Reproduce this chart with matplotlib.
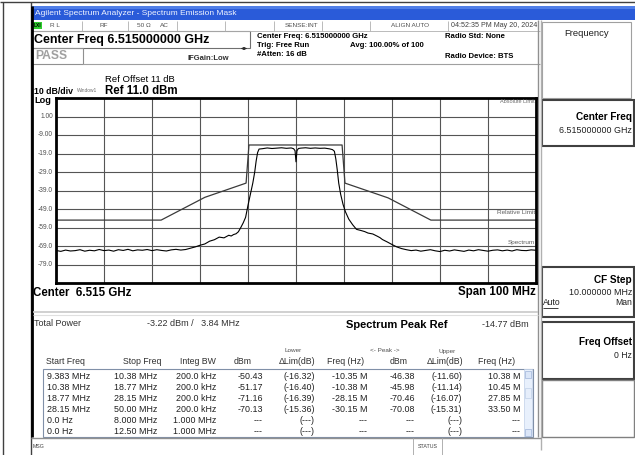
import matplotlib
matplotlib.use('Agg')
import matplotlib.pyplot as plt
import numpy as np
from matplotlib.patches import Rectangle
from matplotlib.transforms import blended_transform_factory

plt.rcParams['font.family'] = ['Liberation Sans', 'DejaVu Sans']

# analyzer settings
center_ghz = 6.515
span_mhz = 100
ref_level = 11.0
db_per_div = 10
ytick_vals = [1, -9, -19, -29, -39, -49, -59, -69, -79]
ytick_labels = ['1.00', '-9.00', '-19.0', '-29.0', '-39.0', '-49.0', '-59.0', '-69.0', '-79.0']

# spectrum trace: offset from centre (MHz), level (dBm)
spec_freq = [-50, -49, -48, -47, -46, -45, -44, -43, -42, -41, -40, -39, -38, -37,
             -36, -35, -34, -33, -32, -31, -30, -29, -28, -27, -26, -25, -24,
             -23, -22, -21, -20, -19, -18, -17, -16, -15, -14, -13.5, -13, -12.5,
             -12, -11.5, -11, -10.5, -10, -9.5, -9, -8.6, -8.3, -8.0, -7.7, -7, -6,
             -5, -4, -3, -2, -1, -0.5, -0.2, 0, 0.2, 0.5, 1, 2, 3, 4, 5, 6, 7, 7.6,
             8.0, 8.3, 8.6, 8.9, 9.3, 9.8, 10.3, 11, 11.8, 12.6, 13.5, 14.3, 15, 16,
             17, 17.5, 18, 19, 20, 21, 22, 23, 24, 25, 26, 27, 28, 29, 30, 31, 32,
             33, 34, 35, 36, 37, 38, 39, 40, 41, 42, 43, 44, 45, 46, 47, 48, 49, 50]
spec_dbm = [-71.4, -71.9, -71.2, -71.7, -71.5, -71.0, -71.8, -71.3, -71.6, -70.9, -71.5,
            -71.2, -71.8, -71.0, -71.4, -70.8, -71.6, -71.1, -71.3, -70.9, -71.5, -71.0,
            -71.4, -71.7, -71.1, -70.8, -71.2,
            -70.9, -70.2, -69.5, -68.6, -67.9, -66.4, -65.6, -64.2, -64.6, -63.2, -63.6,
            -62.8, -62.4, -61.3, -59.0, -56.5, -53.5, -47.0, -41.0, -35.0, -29.0, -23.0,
            -18.5, -16.6, -16.4, -16.0, -16.3, -16.1, -15.9, -16.2, -16.0, -16.4, -17.5,
            -23.5, -17.5, -16.3, -16.1, -15.9, -16.2, -16.0, -16.2, -16.1, -16.5, -16.9,
            -17.8, -22.0, -28.0, -35.0, -41.0, -46.5, -50.5, -54.5, -57.5, -60.0, -60.6,
            -61.2, -62.0, -62.5, -63.8, -64.5, -65.5, -66.8, -68.2, -69.5, -70.4, -71.0,
            -71.5, -71.2, -71.8, -71.4, -71.0, -71.6, -72.0, -71.3, -71.7, -71.1, -71.5,
            -71.9, -71.2, -71.6, -71.0, -71.4, -71.8, -71.3, -71.1, -71.6, -71.2, -71.7,
            -71.0, -71.4, -71.5, -71.1, -71.3]

# SEM limit mask
mask_freq = [-50, -28.1, -19.0, -10.4, -9.8, 9.6, 10.2, 19.2, 28.1, 50]
mask_dbm = [-55.0, -55.0, -42.7, -35.0, -14.4, -14.4, -35.0, -43.0, -55.0, -55.0]

# result table
start_freq = ['9.383 MHz', '10.38 MHz', '18.77 MHz', '28.15 MHz', '0.0 Hz', '0.0 Hz']
stop_freq = ['10.38 MHz', '18.77 MHz', '28.15 MHz', '50.00 MHz', '8.000 MHz', '12.50 MHz']
integ_bw = ['200.0 kHz', '200.0 kHz', '200.0 kHz', '200.0 kHz', '1.000 MHz', '1.000 MHz']
lower_dbm = ['-50.43', '-51.17', '-71.16', '-70.13', '---', '---']
lower_dlim = ['(-16.32)', '(-16.40)', '(-16.39)', '(-15.36)', '(---)', '(---)']
lower_freq = ['-10.35 M', '-10.38 M', '-28.15 M', '-30.15 M', '---', '---']
upper_dbm = ['-46.38', '-45.98', '-70.46', '-70.08', '---', '---']
upper_dlim = ['(-11.60)', '(-11.14)', '(-16.07)', '(-15.31)', '(---)', '(---)']
upper_freq = ['10.38 M', '10.45 M', '27.85 M', '33.50 M', '---', '---']

W, H = 635, 455
fig = plt.figure(figsize=(W / 100, H / 100), dpi=100)
fig.patch.set_facecolor('white')

#overlay axes in pixel coords for the instrument screen
ov = fig.add_axes([0, 0, 1, 1])
ov.set_xlim(0, W)
ov.set_ylim(H, 0)
ov.axis('off')


def put(x, y, s, size=6, weight='normal', ha='left', color='black', va='center', **kw):
    ov.text(x, y, s, fontsize=size, fontweight=weight, ha=ha, va=va, color=color, **kw)


def box(x0, y0, x1, y1, ec='#808080', lw=1.0, fc='none', z=1):
    ov.add_patch(Rectangle((x0, y0), x1 - x0, y1 - y0, ec=ec, fc=fc, lw=lw, zorder=z))


def hline(y, x0, x1, color='#808080', lw=1.0):
    ov.plot([x0, x1], [y, y], color=color, lw=lw, solid_capstyle='butt')


def vline(x, y0, y1, color='#808080', lw=1.0):
    ov.plot([x, x], [y0, y1], color=color, lw=lw, solid_capstyle='butt')


#outer table borders
hline(2, 0, W, color='#404040', lw=1.0)
vline(2.5, 2, H, color='#404040', lw=1.0)
vline(30.5, 2, H, color='#404040', lw=1.0)

#title bar
box(31, 6, W, 20, ec='none', fc='#2a5bd9', z=0)
box(31, 6, W, 9, ec='none', fc='#4f7ee8', z=0)
put(35, 13.5, 'Agilent Spectrum Analyzer - Spectrum Emission Mask', size=6.0, color='#f0f4ff')

#status row
box(33, 22, 42, 29, ec='none', fc='#2fcf2f')
put(37.5, 25.5, 'LXI', size=3.5, weight='bold', ha='center')
put(50, 25.5, 'R L', size=4.6, color='#505050')
put(100, 25.5, 'RF', size=4.6, color='#505050')
put(137, 25.5, '50 Ω', size=4.6, color='#505050')
put(160, 25.5, 'AC', size=4.6, color='#505050')
put(318, 25.5, 'SENSE:INT', size=4.6, color='#505050', ha='right')
put(391, 25.5, 'ALIGN AUTO', size=4.6, color='#505050')
put(451, 25.5, '04:52:35 PM May 20, 2024', size=5.1, color='#404040')
for sx in [82, 128, 177, 225, 274, 322, 370, 448]:
    vline(sx, 21, 31, color='#b0b0b0', lw=0.6)
hline(31, 31, 540, color='#b0b0b0', lw=0.6)

#header block
box(32, 31, 250, 48, ec='#707070', lw=0.8)
put(34, 40, 'Center Freq 6.515000000 GHz', size=9.0, weight='bold')
box(32, 48, 83, 64, ec='#909090', lw=0.8)
put(35, 56, 'PASS', size=8.7, weight='bold', color='#a0a0a0')
put(188, 58.5, 'IFGain:Low', size=5.5, weight='bold', color='#303030')
ov.annotate('', xy=(250, 48.5), xytext=(238, 48.5),
            arrowprops=dict(arrowstyle='<|-|>', lw=0.6, color='#303030', mutation_scale=4))
put(257, 36.5, 'Center Freq: 6.515000000 GHz', size=5.6, weight='bold')
put(257, 45.5, 'Trig: Free Run', size=5.6, weight='bold')
put(257, 55, '#Atten: 16 dB', size=5.6, weight='bold')
put(350, 45.5, 'Avg: 100.00% of 100', size=5.6, weight='bold')
put(445, 36, 'Radio Std: None', size=5.6, weight='bold')
put(445, 57, 'Radio Device: BTS', size=5.6, weight='bold')
hline(64, 83, 540, color='#a0a0a0', lw=0.8)

#screen frame
vline(32, 6, 437, color='black', lw=2.0)
vline(538, 20, 437, color='#909090', lw=1.0)
vline(541, 20, 450, color='#b0b0b0', lw=1.0)

put(105, 80, 'Ref Offset 11 dB', size=6.8)
put(105, 90.5, 'Ref 11.0 dBm', size=8.3, weight='bold')
put(77, 91, 'Window1', size=3.5, color='#707070')
put(34, 91.5, '10 dB/div', size=6.3, weight='bold')
put(34, 100.5, 'Log', size=6.6, weight='bold')

#spectrum graticule
gx0, gx1, gy0, gy1 = 56, 536, 98, 283
ax = fig.add_axes([gx0 / W, 1 - gy1 / H, (gx1 - gx0) / W, (gy1 - gy0) / H])
ax.set_xlim(-span_mhz / 2, span_mhz / 2)
ax.set_ylim(ref_level - 10 * db_per_div, ref_level)
ax.set_xticks(np.arange(-span_mhz / 2, span_mhz / 2 + 1, span_mhz / 10))
ax.set_yticks(np.arange(ref_level - 10 * db_per_div, ref_level + 1, db_per_div))
ax.tick_params(length=0, labelbottom=False, labelleft=False)
ax.grid(True, color='#555555', lw=0.8)
for sp in ax.spines.values():
    sp.set_linewidth(2.0)
    sp.set_color('black')
ax.plot(mask_freq, mask_dbm, color='#3a3a3a', lw=0.9)
ax.plot(spec_freq, spec_dbm, color='black', lw=0.8)
tr = blended_transform_factory(ax.transAxes, ax.transData)
for v, lab in zip(ytick_vals, ytick_labels):
    ax.text(-0.006, v, lab, transform=tr, ha='right', va='center', fontsize=4.8,
            color='#505050', clip_on=False)
ax.text(0.998, ref_level - 0.5, 'Absolute Limit', transform=tr, ha='right', va='top',
        fontsize=4.0, color='#707070', clip_on=True)
ax.text(0.998, -52.5, 'Relative Limit', transform=tr, ha='right', va='bottom',
        fontsize=4.6, color='#606060')
ax.text(0.998, -68.5, 'Spectrum', transform=tr, ha='right', va='bottom',
        fontsize=4.6, color='#606060')

put(33, 292.5, 'Center  {:.3f} GHz'.format(center_ghz), size=8.3, weight='bold')
put(536, 292.5, 'Span {} MHz'.format(span_mhz), size=8.3, weight='bold', ha='right')

#results section
hline(312, 33, 538, color='#c8c8c8', lw=1.2)
hline(315, 33, 538, color='#e0e0e0', lw=0.8)
put(34, 324, 'Total Power', size=6.5, color='#303030')
put(147, 324, '-3.22 dBm /   3.84 MHz', size=6.5, color='#303030')
put(397, 324.5, 'Spectrum Peak Ref', size=8.0, weight='bold', ha='center')
put(529, 324.5, '-14.77 dBm', size=6.5, color='#303030', ha='right')

put(293, 351, 'Lower', size=4.6, color='#505050', ha='center')
put(385, 351, '<- Peak ->', size=4.6, color='#505050', ha='center')
put(447, 351, 'Upper', size=4.6, color='#505050', ha='center')
hdr = [(46, 'Start Freq', 'left'), (161, 'Stop Freq', 'right'), (216, 'Integ BW', 'right'),
       (243, 'dBm', 'center'), (315, 'ΔLim(dB)', 'right'), (364, 'Freq (Hz)', 'right'),
       (408, 'dBm', 'right'), (463, 'ΔLim(dB)', 'right'), (515, 'Freq (Hz)', 'right')]
for hx, ht, ha in hdr:
    put(hx, 362, ht, size=6.3, color='#303030', ha=ha)

box(43, 368.5, 533, 437, ec='#8090a8', lw=0.8)
box(524, 369, 532, 436, ec='#c0d0e8', lw=0.5, fc='#e8f0fc')
box(525, 371, 531, 378, ec='#a0b4d8', lw=0.5, fc='#dbe6f8')
box(525, 388, 531, 398, ec='#c0d0e8', lw=0.5, fc='#e6eefb')
box(525, 429, 531, 436, ec='#a0b4d8', lw=0.5, fc='#dbe6f8')

cols = [(47, start_freq, 'left'), (157, stop_freq, 'right'), (216, integ_bw, 'right'),
        (263, lower_dbm, 'right'), (315, lower_dlim, 'right'), (368, lower_freq, 'right'),
        (415, upper_dbm, 'right'), (462, upper_dlim, 'right'), (521, upper_freq, 'right')]
row_y = [376.5, 387.5, 398.5, 409.5, 420.5, 431.5]
for cx, vals, ha in cols:
    for ry, v in zip(row_y, vals):
        put(cx, ry, v, size=6.4, color='#202020', ha=ha)

#message bar
hline(437.5, 31, 541, color='#909090', lw=1.0)
put(33, 446, 'MSG', size=3.8, color='#404040')
vline(413, 437.5, 455, color='#b0b0b0', lw=0.7)
vline(442, 437.5, 455, color='#b0b0b0', lw=0.7)
put(427.5, 446, 'STATUS', size=3.8, color='#404040', ha='center')

#softkey panel
box(542, 22, 631, 98, ec='#a0a0a0', lw=0.8)
put(587, 33, 'Frequency', size=6.8, ha='center', color='#202020')
box(542, 100, 634, 146, ec='#404040', lw=1.5)
put(632, 117, 'Center Freq', size=7.2, weight='bold', ha='right')
put(632, 130.5, '6.515000000 GHz', size=6.4, ha='right', color='#202020')
box(542, 267, 634, 317, ec='#404040', lw=1.5)
put(632, 280, 'CF Step', size=7.2, weight='bold', ha='right')
put(632, 292.5, '10.000000 MHz', size=6.4, ha='right', color='#202020')
put(543, 302.5, 'Auto', size=6.2, color='#202020')
hline(307.5, 543, 558, color='#202020', lw=0.6)
put(632, 302.5, 'Man', size=6.2, ha='right', color='#202020')
box(542, 322, 634, 379, ec='#404040', lw=1.5)
put(632, 342, 'Freq Offset', size=7.2, weight='bold', ha='right')
put(632, 356, '0 Hz', size=6.2, ha='right', color='#202020')
box(542, 380, 634, 437, ec='#808080', lw=1.0)

fig.savefig('out.png', dpi=100)
